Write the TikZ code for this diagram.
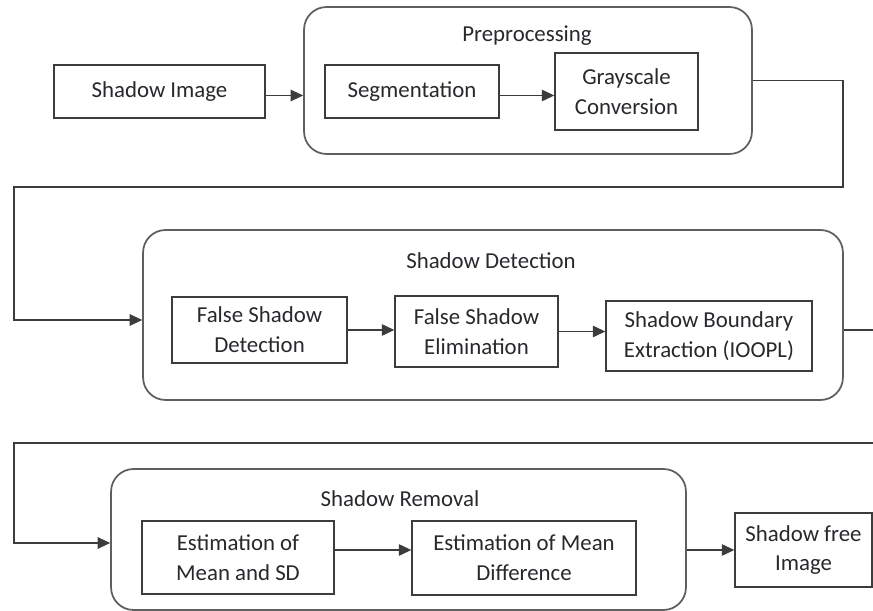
\documentclass[tikz,border=0pt]{standalone}
\usepackage{fontspec}
\setmainfont{Carlito}
\usetikzlibrary{positioning,arrows.meta,calc}
\definecolor{sdline}{RGB}{60,60,60}
\definecolor{sdgrp}{RGB}{95,95,95}
\definecolor{sdtext}{RGB}{40,40,45}
\tikzset{
  sd/.style={font=\fontsize{13}{17}\selectfont, text=sdtext},
  sdbox/.style={
    sd, draw=sdline, fill=white, line width=0.8pt, align=center, inner sep=2pt
  },
  sdgroup/.style={draw=sdgrp, line width=1pt, rounded corners=0.45cm},
  sdarr/.style={-{Triangle[length=2.5mm,width=2.3mm]}, line width=0.7pt, draw=sdline},
  sdwire/.style={line width=0.8pt, draw=sdline},
  sdlbl/.style={sd},
}

\begin{document}
\begin{tikzpicture}[sd, x=0.02cm, y=-0.02cm]
    \clip (0,0) rectangle (873,611);

    % stages
    \node[sdgroup, minimum width=8.96cm, minimum height=2.94cm] (pre) at (528,80.5) {};
    \node[sdgroup, minimum width=14cm, minimum height=3.4cm] (det) at (493,315) {};
    \node[sdgroup, minimum width=11.5cm, minimum height=2.82cm] (rem) at (398.5,539.5) {};

    \node[sdlbl] (prelbl) at (527,36) {Preprocessing};
    \node[sdlbl] (detlbl) at (491,261) {Shadow Detection};
    \node[sdlbl] (remlbl) at (400,499) {Shadow Removal};

    % steps
    \node[sdbox, minimum width=4.22cm, minimum height=1.06cm] (img) at (159.5,91.5) {Shadow Image};
    \node[sdbox, minimum width=3.48cm, minimum height=1.06cm] (seg) at (412,91.5) {Segmentation};
    \node[sdbox, minimum width=2.86cm, minimum height=1.54cm] (gray) at (626.5,91.5) {Grayscale\\Conversion};

    \node[sdbox, minimum width=3.5cm, minimum height=1.32cm] (fsd) at (259.5,330) {False Shadow\\Detection};
    \node[sdbox, minimum width=3.26cm, minimum height=1.42cm] (fse) at (476.5,331.5) {False Shadow\\Elimination};
    \node[sdbox, minimum width=4.12cm, minimum height=1.4cm] (sbe) at (709,336) {Shadow Boundary\\Extraction (IOOPL)};

    \node[sdbox, minimum width=3.84cm, minimum height=1.46cm] (mean) at (238,557.5) {Estimation of\\Mean and SD};
    \node[sdbox, minimum width=4.48cm, minimum height=1.48cm] (diff) at (524,558) {Estimation of Mean\\Difference};
    \node[sdbox, minimum width=2.74cm, minimum height=1.48cm] (free) at (803.5,550) {Shadow free\\Image};

    % bends
    \coordinate (k0) at (0,95.5);
    \coordinate (k1) at (843,187);
    \coordinate (k2) at (14,320);
    \coordinate (k3) at (873,443);
    \coordinate (k4) at (14,543);
    \coordinate (k5) at (0,550);

    \draw[sdarr] (img.east |- k0) -- (pre.west |- k0);
    \draw[sdarr] (seg.east |- k0) -- (gray.west |- k0);
    \draw[sdarr] (pre.east) -| (k1) -| (k2) -- (k2 -| det.west);

    \draw[sdarr] (fsd.east) -- (fsd.east -| fse.west);
    \draw[sdarr] (fse.east) -- (fse.east -| sbe.west);
    \draw[sdwire] (det.east |- fsd.east) -- +(40,0);
    \draw[sdarr] (k3) -| (k4) -- (k4 -| rem.west);

    \draw[sdarr] (mean.east |- k5) -- (diff.west |- k5);
    \draw[sdarr] (free.west -| rem.east) -- (free.west);
  \end{tikzpicture}
\end{document}
